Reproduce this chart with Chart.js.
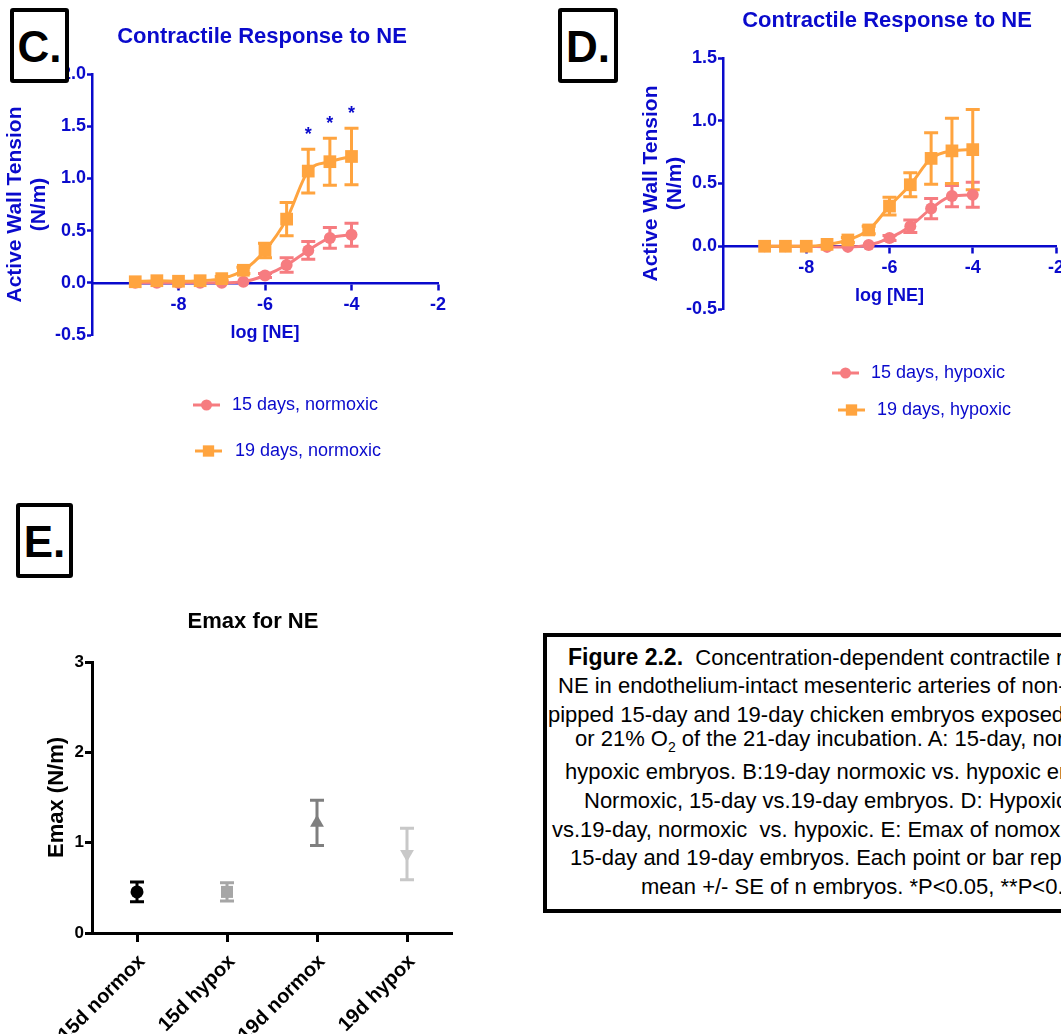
<!DOCTYPE html>
<html>
<head>
<meta charset="utf-8">
<script src="https://cdn.jsdelivr.net/npm/chart.js@4.4.0/dist/chart.umd.min.js"></script>
<style>
  html, body { margin: 0; padding: 0; background: #fff; }
  body { width: 1061px; height: 1034px; position: relative; overflow: hidden; font-family: 'Liberation Sans', Arial, sans-serif; }
  canvas { position: absolute; }
  .tag { position: absolute; border: 4px solid #000; border-radius: 3px; background: #fff; box-sizing: border-box;
         font-size: 44px; font-weight: bold; text-align: center; line-height: 70px; z-index: 2; }
  .ttl { position: absolute; font-size: 22px; font-weight: bold; white-space: nowrap; transform: translate(-50%, -50%); }
  .caption { position: absolute; left: 543px; top: 633px; width: 700px; height: 280px; border: 4px solid #000; box-sizing: border-box; }
  .cl { position: absolute; font-size: 22px; line-height: 26px; white-space: nowrap; transform: translateY(-50%); color: #000; }
</style>
</head>
<body>
<canvas id="chartC" width="470" height="470" style="left:0;top:0"></canvas>
<canvas id="chartD" width="500" height="430" style="left:600px;top:0"></canvas>
<canvas id="chartE" width="470" height="444" style="left:0;top:590px"></canvas>

<div class="tag" style="left:10px;top:8px;width:59px;height:75px;">C.</div>
<div class="tag" style="left:558px;top:8px;width:60px;height:75px;">D.</div>
<div class="tag" style="left:16px;top:503px;width:57px;height:75px;">E.</div>

<div class="ttl" style="left:262px;top:36px;color:#0a0acc;">Contractile Response to NE</div>
<div class="ttl" style="left:887px;top:20px;color:#0a0acc;">Contractile Response to NE</div>
<div class="ttl" style="left:253px;top:621px;color:#000;">Emax for NE</div>

<div class="caption"></div>
<div class="cl" style="left:568px;top:657px;"><b style="font-size:23px">Figure 2.2.</b>&nbsp; Concentration-dependent contractile response to</div>
<div class="cl" style="left:558px;top:686px;">NE in endothelium-intact mesenteric arteries of non-</div>
<div class="cl" style="left:548px;top:715px;">pipped 15-day and 19-day chicken embryos exposed to 15%</div>
<div class="cl" style="left:575px;top:743px;">or 21% O<sub style="font-size:14px">2</sub> of the 21-day incubation. A: 15-day, normoxic vs.</div>
<div class="cl" style="left:565px;top:772px;">hypoxic embryos. B:19-day normoxic vs. hypoxic embryos. C:</div>
<div class="cl" style="left:584px;top:801px;">Normoxic, 15-day vs.19-day embryos. D: Hypoxic, 15-day</div>
<div class="cl" style="left:552px;top:830px;">vs.19-day, normoxic&nbsp; vs. hypoxic. E: Emax of nomoxic and hypoxic</div>
<div class="cl" style="left:570px;top:858px;">15-day and 19-day embryos. Each point or bar represents the</div>
<div class="cl" style="left:641px;top:887px;">mean +/- SE of n embryos. *P&lt;0.05, **P&lt;0.01</div>

<script>
// log [NE] concentrations used in C and D
const conc = [-9, -8.5, -8, -7.5, -7, -6.5, -6, -5.5, -5, -4.5, -4];

// C: normoxic
const norm15 = [0.00, 0.00, 0.00, 0.00, 0.00, 0.01, 0.07, 0.17, 0.31, 0.43, 0.46];
const norm15Err = [0, 0, 0, 0, 0, 0, 0.02, 0.07, 0.085, 0.10, 0.11];
const norm19 = [0.01, 0.02, 0.015, 0.02, 0.04, 0.12, 0.31, 0.61, 1.07, 1.16, 1.21];
const norm19Err = [0, 0, 0, 0, 0.02, 0.03, 0.07, 0.16, 0.21, 0.225, 0.27];

// D: hypoxic
const hyp15 = [0.00, 0.00, 0.00, -0.005, -0.005, 0.01, 0.065, 0.16, 0.30, 0.40, 0.41];
const hyp15Err = [0, 0, 0, 0, 0, 0, 0.02, 0.05, 0.08, 0.085, 0.10];
const hyp19 = [0.00, 0.00, 0.00, 0.015, 0.05, 0.13, 0.32, 0.49, 0.70, 0.76, 0.77];
const hyp19Err = [0, 0, 0, 0, 0.02, 0.03, 0.07, 0.095, 0.205, 0.26, 0.32];

// significance marks (C, 19-day series)
const sigConc = [-5, -4.5, -4];

// tick labels
const logTicks = [-8, -6, -4, -2];
const cTicks = [-0.5, 0, 0.5, 1.0, 1.5, 2.0];
const dTicks = [-0.5, 0, 0.5, 1.0, 1.5];
const eTicks = [0, 1, 2, 3];

// E: Emax
const groups = ['15d normox', '15d hypox', '19d normox', '19d hypox'];
const emax = [0.455, 0.455, 1.22, 0.875];
const emaxErr = [0.11, 0.10, 0.25, 0.285];

const BLUE = '#0a0acc';
const PINK = '#f67c80';
const ORANGE = '#ffa43f';
Chart.defaults.font.family = "'Liberation Sans', Arial, sans-serif";

const errorBars = {
  id: 'errorBars',
  beforeDatasetsDraw(chart) {
    const ctx = chart.ctx;
    const yScale = chart.scales.y;
    chart.data.datasets.forEach((ds, di) => {
      if (!ds.errors) return;
      const meta = chart.getDatasetMeta(di);
      ctx.save();
      ctx.lineWidth = 3;
      meta.data.forEach((el, i) => {
        const err = ds.errors[i];
        if (!err) return;
        const raw = ds.data[i];
        const v = typeof raw === 'object' ? raw.y : raw;
        const hi = yScale.getPixelForValue(v + err);
        const lo = yScale.getPixelForValue(v - err);
        const cap = ds.capHalf || 7;
        ctx.strokeStyle = Array.isArray(ds.errorColor) ? ds.errorColor[i] : (ds.errorColor || ds.borderColor);
        ctx.beginPath();
        ctx.moveTo(el.x, hi); ctx.lineTo(el.x, lo);
        ctx.moveTo(el.x - cap, hi); ctx.lineTo(el.x + cap, hi);
        ctx.moveTo(el.x - cap, lo); ctx.lineTo(el.x + cap, lo);
        ctx.stroke();
      });
      ctx.restore();
    });
  }
};

function makeLegend(items) {
  return {
    id: 'lineLegend',
    afterDraw(chart) {
      const ctx = chart.ctx;
      items.forEach((it, i) => {
        const ds = chart.data.datasets[i];
        ctx.save();
        ctx.strokeStyle = ds.borderColor;
        ctx.lineWidth = 3;
        ctx.beginPath();
        ctx.moveTo(it.x, it.y);
        ctx.lineTo(it.x + 27, it.y);
        ctx.stroke();
        ctx.fillStyle = ds.backgroundColor;
        Chart.helpers.drawPoint(ctx, { pointStyle: ds.pointStyle, radius: ds.legendRadius, rotation: 0, borderWidth: 0 }, it.x + 13.5, it.y);
        ctx.fillStyle = BLUE;
        ctx.font = "18px 'Liberation Sans', Arial, sans-serif";
        ctx.textBaseline = 'middle';
        ctx.fillText(ds.label, it.tx, it.y);
        ctx.restore();
      });
    }
  };
}

function makeStars(dsIndex, at) {
  return {
    id: 'sigStars',
    afterDatasetsDraw(chart) {
      const ctx = chart.ctx;
      const ds = chart.data.datasets[dsIndex];
      ctx.save();
      ctx.fillStyle = BLUE;
      ctx.font = "bold 18px 'Liberation Sans', Arial, sans-serif";
      ctx.textAlign = 'center';
      ctx.textBaseline = 'middle';
      at.forEach(xv => {
        const i = ds.data.findIndex(p => p.x === xv);
        const p = ds.data[i];
        const px = chart.scales.x.getPixelForValue(xv);
        const py = chart.scales.y.getPixelForValue(p.y + ds.errors[i]) - 14;
        ctx.fillText('*', px, py);
      });
      ctx.restore();
    }
  };
}

function series(label, xs, ys, errs, color, style, radius, legendRadius, order) {
  return {
    label: label,
    data: xs.map((x, i) => ({ x: x, y: ys[i] })),
    errors: errs,
    borderColor: color,
    backgroundColor: color,
    pointBackgroundColor: color,
    pointBorderColor: color,
    pointBorderWidth: 0,
    pointStyle: style,
    pointRadius: radius,
    legendRadius: legendRadius,
    borderWidth: 3,
    cubicInterpolationMode: 'monotone',
    capHalf: 7,
    order: order
  };
}

function responseOptions(yMin, yMax, yTickList, pad, yWidth) {
  const tickFont = { size: 18, weight: 'bold' };
  return {
    responsive: false,
    animation: false,
    events: [],
    layout: { padding: pad },
    plugins: { legend: { display: false }, tooltip: { enabled: false } },
    scales: {
      x: {
        type: 'linear',
        min: -10, max: -2,
        position: { y: 0 },
        afterBuildTicks: s => { s.ticks = logTicks.map(v => ({ value: v })); },
        afterFit: s => { s.height = 61; },
        grid: { display: true, drawOnChartArea: false, drawTicks: true, tickLength: 6, tickWidth: 2.5, tickColor: BLUE },
        border: { display: true, color: BLUE, width: 2.5 },
        ticks: { color: BLUE, font: tickFont, padding: 5, maxRotation: 0, autoSkip: false },
        title: { display: true, text: 'log [NE]', color: BLUE, font: { size: 18, weight: 'bold' }, padding: 0 }
      },
      y: {
        type: 'linear',
        min: yMin, max: yMax,
        afterBuildTicks: s => { s.ticks = yTickList.map(v => ({ value: v })); },
        afterFit: s => { s.width = yWidth; },
        grid: { display: true, drawOnChartArea: false, drawTicks: true, tickLength: 5, tickWidth: 2.5, tickColor: BLUE },
        border: { display: true, color: BLUE, width: 2.5 },
        ticks: { color: BLUE, font: tickFont, padding: 1, callback: v => Number(v).toFixed(1) },
        title: { display: true, text: ['Active Wall Tension', '(N/m)'], color: BLUE,
                 font: { size: 21, weight: 'bold', lineHeight: 1.15 }, padding: { top: 3, bottom: 0 } }
      }
    }
  };
}

// Chart C
new Chart(document.getElementById('chartC'), {
  type: 'line',
  data: {
    datasets: [
      series('15 days, normoxic', conc, norm15, norm15Err, PINK, 'circle', 6, 5.5, 1),
      series('19 days, normoxic', conc, norm19, norm19Err, ORANGE, 'rect', 9, 8, 0)
    ]
  },
  options: responseOptions(-0.5, 2.0, cTicks, { left: 0, top: 74, right: 32, bottom: 135 }, 92),
  plugins: [errorBars, makeStars(1, sigConc),
            makeLegend([{ x: 193, y: 405, tx: 232 }, { x: 195, y: 451, tx: 235 }])]
});

// Chart D
new Chart(document.getElementById('chartD'), {
  type: 'line',
  data: {
    datasets: [
      series('15 days, hypoxic', conc, hyp15, hyp15Err, PINK, 'circle', 6, 5.5, 1),
      series('19 days, hypoxic', conc, hyp19, hyp19Err, ORANGE, 'rect', 9, 8, 0)
    ]
  },
  options: responseOptions(-0.5, 1.5, dTicks, { left: 36, top: 58, right: 44, bottom: 121 }, 87),
  plugins: [errorBars, makeLegend([{ x: 232, y: 373, tx: 271 }, { x: 238, y: 410, tx: 277 }])]
});

// Chart E
const eColors = ['#000000', '#a6a6a6', '#7f7f7f', '#c8c8c8'];
new Chart(document.getElementById('chartE'), {
  type: 'line',
  data: {
    labels: groups,
    datasets: [{
      data: emax,
      errors: emaxErr,
      errorColor: eColors,
      capHalf: 7,
      showLine: false,
      pointStyle: ['circle', 'rect', 'triangle', 'triangle'],
      rotation: [0, 0, 0, 180],
      pointRadius: [6.5, 8.5, 8, 8],
      pointBackgroundColor: eColors,
      pointBorderColor: eColors,
      pointBorderWidth: 0
    }]
  },
  options: {
    responsive: false,
    animation: false,
    events: [],
    layout: { padding: { left: 0, top: 72, right: 18, bottom: 0 } },
    plugins: { legend: { display: false }, tooltip: { enabled: false } },
    scales: {
      x: {
        type: 'category',
        offset: true,
        afterFit: s => { s.height = 101; },
        grid: { display: true, offset: false, drawOnChartArea: false, drawTicks: true, tickLength: 9, tickWidth: 3, tickColor: '#000' },
        border: { display: true, color: '#000', width: 3 },
        ticks: { color: '#000', font: { size: 20, weight: 'bold' }, minRotation: 45, maxRotation: 45, padding: 8, labelOffset: 5, autoSkip: false }
      },
      y: {
        type: 'linear',
        min: 0, max: 3,
        afterBuildTicks: s => { s.ticks = eTicks.map(v => ({ value: v })); },
        afterFit: s => { s.width = 92; },
        grid: { display: true, drawOnChartArea: false, drawTicks: true, tickLength: 7, tickWidth: 3, tickColor: '#000' },
        border: { display: true, color: '#000', width: 3 },
        ticks: { color: '#000', font: { size: 17, weight: 'bold' }, padding: 1 },
        title: { display: true, text: 'Emax (N/m)', color: '#000', font: { size: 22, weight: 'bold' }, padding: { top: 44, bottom: 0 } }
      }
    }
  },
  plugins: [errorBars]
});
</script>
</body>
</html>
